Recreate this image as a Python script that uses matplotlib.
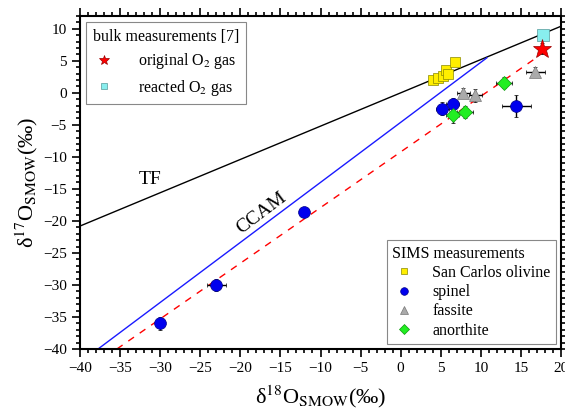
import numpy as np
import matplotlib
matplotlib.use("Agg")
import matplotlib.pyplot as plt
from matplotlib.ticker import MultipleLocator
from matplotlib.lines import Line2D

plt.rcParams['font.family'] = ['Liberation Serif', 'DejaVu Serif']
plt.rcParams['mathtext.fontset'] = 'stix'

# ---- data ----
olivine_x = [4.0, 4.7, 5.3, 5.6, 5.9, 6.8]
olivine_y = [2.0, 2.3, 2.6, 3.5, 2.9, 4.8]
olivine_xerr = [0.3, 0.3, 0.3, 0.3, 0.3, 0.3]
olivine_yerr = [0.3, 0.3, 0.3, 0.3, 0.3, 0.3]

spinel_x = [-30.0, -23.0, -12.0, 5.2, 6.5, 14.4]
spinel_y = [-36.0, -30.0, -18.6, -2.5, -1.8, -2.0]
spinel_xerr = [0.3, 1.2, 0.4, 0.8, 0.8, 1.8]
spinel_yerr = [1.0, 1.0, 0.4, 1.0, 1.0, 1.7]

fassite_x = [7.8, 9.3, 16.8]
fassite_y = [0.0, -0.4, 3.3]
fassite_xerr = [0.8, 0.8, 1.2]
fassite_yerr = [0.8, 1.0, 0.8]

anorthite_x = [6.5, 8.0, 12.9]
anorthite_y = [-3.5, -3.0, 1.6]
anorthite_xerr = [0.8, 1.0, 1.0]
anorthite_yerr = [1.2, 1.0, 0.8]

orig_x, orig_y, orig_yerr = [17.6], [6.9], [0.9]
react_x, react_y = [17.7], [9.0]

tf_x = [-40, 20]
tf_slope = 0.52
ccam_x = [-37.75, 10.75]
ccam_y = [-40.0, 5.47]
fit_x = [-35.4, 16.6]
fit_y = [-40.0, 5.2]

fig = plt.figure(figsize=(5.65, 4.16), dpi=100)
ax = fig.add_axes([80/565, (416-349)/416, (561-80)/565, (349-16)/416])

ax.plot(tf_x, [tf_slope*v for v in tf_x], color='black', lw=1.0)
ax.plot(ccam_x, ccam_y, color='#1a1aff', lw=1.0)
ax.plot(fit_x, fit_y, color='red', lw=1.0, ls=(0, (5, 5)))

eb = dict(ecolor='black', elinewidth=1.0, capsize=1.5, capthick=1.0, ls='none')
ol_style = dict(marker='s', mfc='#ffee00', mec='#888800', mew=0.5)
sp_style = dict(marker='o', mfc='#0000ee', mec='#000088', mew=0.5)
fa_style = dict(marker='^', mfc='#aaaaaa', mec='#777777', mew=0.5)
an_style = dict(marker='D', mfc='#22ee22', mec='#119911', mew=0.5)
or_style = dict(marker='*', mfc='red', mec='#990000', mew=0.5)
re_style = dict(marker='s', mfc='#88eeee', mec='#559999', mew=0.5)

ax.errorbar(olivine_x, olivine_y, xerr=olivine_xerr, yerr=olivine_yerr, ms=6.5, **ol_style, **eb)
ax.errorbar(spinel_x, spinel_y, xerr=spinel_xerr, yerr=spinel_yerr, ms=8.5, **sp_style, **eb)
ax.errorbar(fassite_x, fassite_y, xerr=fassite_xerr, yerr=fassite_yerr, ms=9, **fa_style, **eb)
ax.errorbar(anorthite_x, anorthite_y, xerr=anorthite_xerr, yerr=anorthite_yerr, ms=7.5, **an_style, **eb)
ax.errorbar(orig_x, orig_y, yerr=orig_yerr, ms=14, **or_style, **eb)
ax.plot(react_x, react_y, ms=8, ls='none', **re_style)

ax.set_xlim(-40, 20)
ax.set_ylim(-40, 12)
ax.xaxis.set_major_locator(MultipleLocator(5))
ax.xaxis.set_minor_locator(MultipleLocator(1))
ax.yaxis.set_major_locator(MultipleLocator(5))
ax.yaxis.set_minor_locator(MultipleLocator(1))
ax.tick_params(which='both', direction='out', top=True, right=True, labelsize=11, width=1.2)
ax.tick_params(which='major', length=6)
ax.tick_params(which='minor', length=3)
for s in ax.spines.values():
    s.set_linewidth(1.5)

ax.set_xlabel('δ$^{18}$O$_{\\rm SMOW}$(‰)', fontsize=16, labelpad=6)
ax.set_ylabel('δ$^{17}$O$_{\\rm SMOW}$(‰)', fontsize=16, labelpad=2)

ax.text(-31.3, -13.6, 'TF', fontsize=14, ha='center', va='center')
ax.text(-17.4, -18.8, 'CCAM', fontsize=14, ha='center', va='center', rotation=37)

# legends (marker-only proxies)
p_or = Line2D([], [], ls='none', ms=7, **or_style)
p_re = Line2D([], [], ls='none', ms=5, **re_style)
leg1 = ax.legend([p_or, p_re], ['original O$_2$ gas', 'reacted O$_2$ gas'],
                 title='bulk measurements [7]', loc='upper left', fontsize=11.5, title_fontsize=11.5,
                 alignment='left', fancybox=False, edgecolor='#888888', framealpha=1,
                 borderaxespad=0.4, borderpad=0.4, handletextpad=1.4, labelspacing=0.4,
                 handlelength=1.4)
leg1.get_frame().set_linewidth(0.8)
ax.add_artist(leg1)

p_ol = Line2D([], [], ls='none', ms=5, **ol_style)
p_sp = Line2D([], [], ls='none', ms=5.5, **sp_style)
p_fa = Line2D([], [], ls='none', ms=5.5, **fa_style)
p_an = Line2D([], [], ls='none', ms=5, **an_style)
leg2 = ax.legend([p_ol, p_sp, p_fa, p_an], ['San Carlos olivine', 'spinel', 'fassite', 'anorthite'],
                 title='SIMS measurements', loc='lower right', fontsize=11.5, title_fontsize=11.5,
                 alignment='left', fancybox=False, edgecolor='#888888', framealpha=1,
                 borderaxespad=0.3, borderpad=0.35, handletextpad=1.1, labelspacing=0.2,
                 handlelength=1.4)
leg2.get_frame().set_linewidth(0.8)

fig.savefig('out.png', dpi=100)
